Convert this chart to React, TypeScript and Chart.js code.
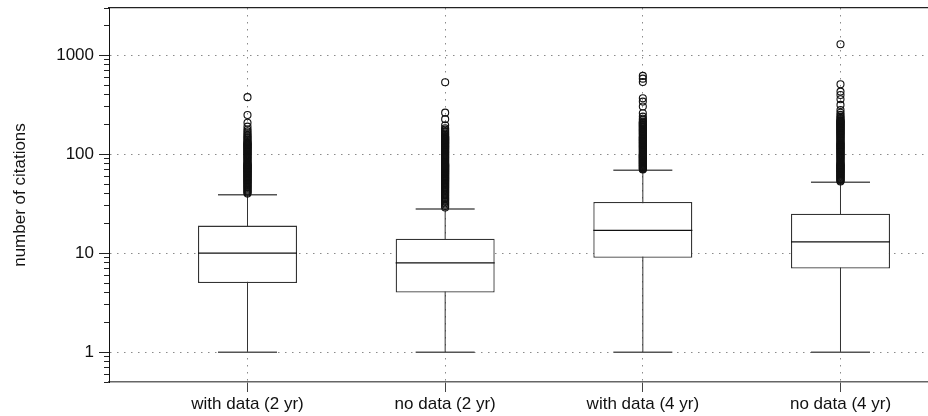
import React, { useEffect, useRef } from 'react';
import { Chart, registerables } from 'chart.js';

Chart.register(...registerables);

// ---- data ----
const CATEGORIES = ['with data (2 yr)', 'no data (2 yr)', 'with data (4 yr)', 'no data (4 yr)'];
const POSITIONS = [1, 2, 3, 4];
const WHISKER_LOW = [1, 1, 1, 1];
const Q1 = [5, 4, 9, 7];
const MEDIAN = [10, 8, 17, 13];
const Q3 = [19, 14, 33, 25];
const WHISKER_HIGH = [39, 28, 69, 52];

const OUTLIERS_WITH_2YR = [
  40, 41, 42, 43, 44, 45, 46, 47, 48, 49, 50, 51, 52, 53, 54, 55, 56, 57, 58, 59, 60,
  61, 62, 63, 64, 65, 66, 67, 68, 69, 70, 71, 72, 73, 74, 75, 76, 77, 78, 79, 80,
  82, 84, 86, 88, 90, 92, 94, 96, 98, 100, 102, 104, 106, 108, 110, 112, 114, 116, 118,
  120, 122, 124, 126, 128, 130,
  133, 136, 140, 144, 148, 152, 157, 163, 170, 178, 190, 208, 249, 377,
];
const OUTLIERS_NO_2YR = [
  29, 30, 31, 32, 33, 34, 35, 36, 37, 38, 39, 40, 41, 42, 43, 44, 45, 46, 47, 48, 49, 50,
  51, 52, 53, 54, 55, 56, 57, 58, 59, 60, 61, 62, 63, 64, 65, 66, 67, 68, 69, 70,
  71, 72, 73, 74, 75, 76, 77, 78, 79, 80,
  82, 84, 86, 88, 90, 92, 94, 96, 98, 100, 102, 104, 106, 108, 110, 112, 114, 116, 118,
  120, 122, 124, 126, 128, 130, 132, 134, 136, 138, 140, 142, 144, 146, 148, 150,
  153, 157, 161, 166, 171, 177, 183, 196, 226, 263, 534,
];
const OUTLIERS_WITH_4YR = [
  70, 71, 72, 73, 74, 75, 76, 77, 78, 79, 80, 81, 82, 83, 84, 85, 86, 87, 88, 89, 90,
  91, 92, 93, 94, 95, 96, 97, 98, 99, 100,
  102, 104, 106, 108, 110, 112, 114, 116, 118, 120, 122, 124, 126, 128, 130, 132, 134,
  136, 138, 140, 142, 144, 146, 148, 150,
  153, 156, 159, 162, 165, 168, 171, 174, 177, 180, 183, 186, 189, 192, 195, 198, 201,
  204, 207, 210, 213,
  220, 228, 240, 259, 303, 340, 368, 537, 580, 618,
];
const OUTLIERS_NO_4YR = [
  53, 54, 55, 56, 57, 58, 59, 60, 61, 62, 63, 64, 65, 66, 67, 68, 69, 70, 71, 72, 73,
  74, 75, 76, 77, 78, 79, 80,
  82, 84, 86, 88, 90, 92, 94, 96, 98, 100, 102, 104, 106, 108, 110, 112, 114, 116, 118,
  120, 122, 124, 126, 128, 130,
  133, 136, 139, 142, 145, 148, 151, 154, 157, 160, 163, 166, 169, 172, 175, 178, 181,
  184, 187, 190, 193, 196, 199, 202, 205, 208, 211, 214, 217, 220,
  226, 233, 240, 250, 262, 280, 315, 359, 397, 429, 510, 1291,
];

const Y_MIN = 0.5;
const Y_MAX = 3000;
const X_MIN = 0.2993;
const X_MAX = 4.4427;
const Y_LABELED = [1, 10, 100, 1000];
const Y_TICKS = [
  0.5, 0.6, 0.7, 0.8, 0.9, 1, 2, 3, 4, 5, 6, 7, 8, 9, 10, 20, 30, 40, 50, 60, 70, 80, 90,
  100, 200, 300, 400, 500, 600, 700, 800, 900, 1000, 2000, 3000,
];
const Y_TITLE = 'number of citations';

const FONT = "'Liberation Sans', Arial, Helvetica, sans-serif";

export default function App() {
  const ref = useRef<HTMLCanvasElement>(null);

  useEffect(() => {
    if (!ref.current) return;
    const outlierSets = [OUTLIERS_WITH_2YR, OUTLIERS_NO_2YR, OUTLIERS_WITH_4YR, OUTLIERS_NO_4YR];
    const xy = (vals: number[]) => POSITIONS.map((p, i) => ({ x: p, y: vals[i] }));
    const isLabeled = (c: any) => !!(c && c.tick && Y_LABELED.includes(c.tick.value));

    const chart = new Chart(ref.current, {
      type: 'bar',
      data: {
        datasets: [
          {
            type: 'scatter',
            label: 'outliers',
            order: 0,
            data: outlierSets.flatMap((arr, i) => arr.map((v) => ({ x: POSITIONS[i], y: v }))),
            pointStyle: 'circle',
            pointRadius: 3.5,
            pointBorderWidth: 1.1,
            pointBorderColor: '#111',
            pointBackgroundColor: 'rgba(0,0,0,0)',
          } as any,
          {
            type: 'scatter',
            label: 'median',
            order: 1,
            data: xy(MEDIAN),
            pointStyle: 'line',
            pointRadius: 49.5,
            pointBorderWidth: 1.3,
            pointBorderColor: '#111',
          } as any,
          {
            type: 'scatter',
            label: 'caps',
            order: 2,
            data: [...xy(WHISKER_HIGH), ...xy(WHISKER_LOW)],
            pointStyle: 'line',
            pointRadius: 29.5,
            pointBorderWidth: 1.5,
            pointBorderColor: '#555',
          } as any,
          {
            type: 'bar',
            label: 'box',
            order: 3,
            data: POSITIONS.map((p, i) => ({ x: p, y: [Q1[i], Q3[i]] })),
            backgroundColor: '#ffffff',
            borderColor: '#333',
            borderWidth: 1.3,
            borderSkipped: false,
            barThickness: 99,
            grouped: false,
            inflateAmount: 0,
          } as any,
          {
            type: 'bar',
            label: 'whisker',
            order: 4,
            data: POSITIONS.map((p, i) => ({ x: p, y: [WHISKER_LOW[i], WHISKER_HIGH[i]] })),
            backgroundColor: '#333',
            borderWidth: 0,
            barThickness: 1,
            grouped: false,
            inflateAmount: 0,
          } as any,
        ],
      },
      options: {
        animation: false,
        responsive: true,
        maintainAspectRatio: false,
        devicePixelRatio: 1,
        events: [],
        layout: { autoPadding: false, padding: { top: 8, right: 0, bottom: 0, left: 0 } },
        plugins: {
          legend: { display: false },
          tooltip: { enabled: false },
        },
        scales: {
          x: {
            type: 'linear',
            axis: 'x',
            position: 'bottom',
            min: X_MIN,
            max: X_MAX,
            offset: false,
            afterBuildTicks: (s: any) => {
              s.ticks = POSITIONS.map((v) => ({ value: v }));
            },
            afterFit: (s: any) => {
              s.height = 34;
              s.paddingLeft = 0;
              s.paddingRight = 0;
            },
            grid: {
              display: true,
              drawOnChartArea: true,
              drawTicks: true,
              tickLength: 10,
              color: '#8a8a8a',
              lineWidth: 1,
              tickColor: '#444',
              tickWidth: 1,
              offset: false,
            },
            border: { display: true, color: '#666', width: 1.5, dash: [1.5, 5.5] },
            ticks: {
              color: '#111',
              font: { family: FONT, size: 17 },
              padding: 2,
              maxRotation: 0,
              autoSkip: false,
              callback: (v: any) => CATEGORIES[POSITIONS.indexOf(Number(v))] ?? '',
            },
          } as any,
          xTop: {
            type: 'linear',
            axis: 'x',
            position: 'top',
            min: X_MIN,
            max: X_MAX,
            offset: false,
            grid: { display: false, drawTicks: false },
            ticks: { display: false },
            border: { display: true, color: '#222', width: 1.2 },
            afterFit: (s: any) => {
              s.height = 0;
              s.paddingLeft = 0;
              s.paddingRight = 0;
            },
          } as any,
          y: {
            type: 'logarithmic',
            position: 'left',
            min: Y_MIN,
            max: Y_MAX,
            afterBuildTicks: (s: any) => {
              s.ticks = Y_TICKS.map((v) => ({ value: v, major: Y_LABELED.includes(v) }));
            },
            afterFit: (s: any) => {
              s.width = 109;
              s.paddingTop = 0;
              s.paddingBottom = 0;
            },
            grid: {
              display: true,
              drawOnChartArea: true,
              drawTicks: true,
              tickLength: 10,
              lineWidth: 1,
              color: (c: any) => (isLabeled(c) ? '#8a8a8a' : 'rgba(0,0,0,0)'),
              tickColor: '#222',
              tickWidth: 1,
              tickBorderDash: (c: any) => (isLabeled(c) ? [] : [0, 5, 5, 0]),
            },
            border: { display: true, color: '#111', width: 1, dash: [1.5, 5.5] },
            ticks: {
              color: '#111',
              font: { family: FONT, size: 17 },
              padding: 5,
              autoSkip: false,
              callback: (v: any) => (Y_LABELED.includes(Number(v)) ? String(v) : ''),
            },
            title: {
              display: true,
              text: Y_TITLE,
              color: '#111',
              font: { family: FONT, size: 17 },
              padding: { top: 10, bottom: 0 },
            },
          } as any,
        },
      } as any,
    });

    return () => chart.destroy();
  }, []);

  return (
    <div style={{ position: 'absolute', left: 0, top: 0, width: 928, height: 416 }}>
      <canvas ref={ref} />
    </div>
  );
}
